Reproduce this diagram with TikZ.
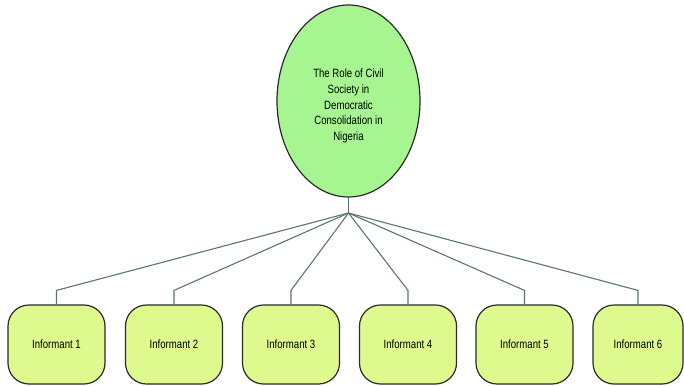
\documentclass[tikz,border=0pt]{standalone}
\usepackage{fontspec}
\setmainfont{Liberation Sans}
\usepackage{graphicx}
\usetikzlibrary{shapes.geometric}
\definecolor{ellfill}{HTML}{A6F590}
\definecolor{boxfill}{HTML}{DEF98D}
\definecolor{connc}{HTML}{5C7474}
\definecolor{edgec}{HTML}{2A2A2A}
\newcommand\narrowtxt[1]{\scalebox{0.8}[1]{#1}}
\begin{document}
\begin{tikzpicture}[x=1pt,y=-1pt,
  ellnode/.style={ellipse,draw=edgec,line width=1.2pt,fill=ellfill,minimum width=143pt,minimum height=192pt,inner sep=0pt},
  titletxt/.style={align=center,font=\fontsize{12}{15.8}\selectfont,inner sep=0pt},
  infobox/.style={draw=edgec,line width=1.2pt,fill=boxfill,rounded corners=21pt,minimum width=97pt,minimum height=79pt,inner sep=0pt,font=\fontsize{12}{14}\selectfont},
  conn/.style={draw=connc,line width=1.1pt}]
\useasboundingbox (0,0) rectangle (684,385);
\node[ellnode] (root) at (348.5,101) {};
\node[titletxt] (title) at (348.5,106) {\narrowtxt{The Role of Civil}\\\narrowtxt{Society in}\\\narrowtxt{Democratic}\\\narrowtxt{Consolidation in}\\\narrowtxt{Nigeria}};
\coordinate (hub) at (348.5,213);
\node[infobox] (b1) at (56.5,344.5) {\narrowtxt{Informant 1}};
\node[infobox] (b2) at (174,344.5) {\narrowtxt{Informant 2}};
\node[infobox] (b3) at (291,344.5) {\narrowtxt{Informant 3}};
\node[infobox] (b4) at (408,344.5) {\narrowtxt{Informant 4}};
\node[infobox] (b5) at (524.5,344.5) {\narrowtxt{Informant 5}};
\node[infobox,minimum width=90pt] (b6) at (638,344.5) {\narrowtxt{Informant 6}};
\draw[conn] (root.south) -- (hub);
\foreach \b in {b1,b2,b3,b4,b5,b6}{
  \draw[conn] (hub) -- ([yshift=14pt]\b.north) -- (\b.north);
}
\end{tikzpicture}
\end{document}
